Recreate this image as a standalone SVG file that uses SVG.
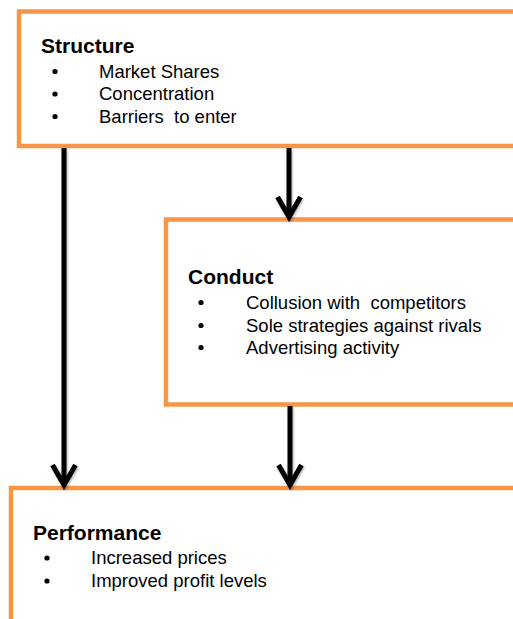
<svg xmlns="http://www.w3.org/2000/svg" width="513" height="619" viewBox="0 0 513 619">
<style>
.box{fill:#fff;stroke:#F79646;stroke-width:4.5}
.h{font-family:"Liberation Sans",Arial,sans-serif;font-weight:bold;font-size:21px;fill:#000}
.t{font-family:"Liberation Sans",Arial,sans-serif;font-size:18.5px;fill:#000}
.b{fill:#000}
.c{stroke:#000;stroke-width:5;fill:none}
.ah{stroke:#000;stroke-width:5;fill:none;stroke-linejoin:miter}
</style>
<defs>
<filter id="sh" x="-20%" y="-20%" width="140%" height="140%">
<feDropShadow dx="1" dy="1.5" stdDeviation="1" flood-color="#000" flood-opacity="0.3"/>
</filter>
</defs>
<rect width="513" height="619" fill="#fff"/>
<g id="structure">
<rect class="box" x="19" y="11.5" width="520" height="134.5"/>
<text class="h" x="41" y="53">Structure</text>
<circle class="b" cx="55" cy="71.5" r="2.6"/>
<text class="t" x="99" y="77.5">Market Shares</text>
<circle class="b" cx="55" cy="94" r="2.6"/>
<text class="t" x="99" y="100">Concentration</text>
<circle class="b" cx="55" cy="116.5" r="2.6"/>
<text class="t" x="99" y="122.5" xml:space="preserve">Barriers  to enter</text>
</g>
<g id="conduct">
<rect class="box" x="166" y="219.5" width="370" height="185"/>
<text class="h" x="188" y="284">Conduct</text>
<circle class="b" cx="201" cy="302.5" r="2.6"/>
<text class="t" x="246" y="308.5" xml:space="preserve">Collusion with  competitors</text>
<circle class="b" cx="201" cy="325.5" r="2.6"/>
<text class="t" x="246" y="331.5">Sole strategies against rivals</text>
<circle class="b" cx="201" cy="347.5" r="2.6"/>
<text class="t" x="246" y="353.5">Advertising activity</text>
</g>
<g id="performance">
<rect class="box" x="11" y="488" width="530" height="160"/>
<text class="h" x="33" y="540">Performance</text>
<circle class="b" cx="47" cy="558" r="2.6"/>
<text class="t" x="91" y="564">Increased prices</text>
<circle class="b" cx="47" cy="581" r="2.6"/>
<text class="t" x="91" y="587">Improved profit levels</text>
</g>
<g id="connectors" filter="url(#sh)">
<line class="c" x1="64" y1="148" x2="64" y2="484"/>
<polyline class="ah" points="52.5,465 64,485 75.5,465"/>
<line class="c" x1="289" y1="148" x2="289" y2="216"/>
<polyline class="ah" points="277.5,197 289,217 300.5,197"/>
<line class="c" x1="290" y1="406" x2="290" y2="484"/>
<polyline class="ah" points="278.5,465 290,485 301.5,465"/>
</g>
</svg>
